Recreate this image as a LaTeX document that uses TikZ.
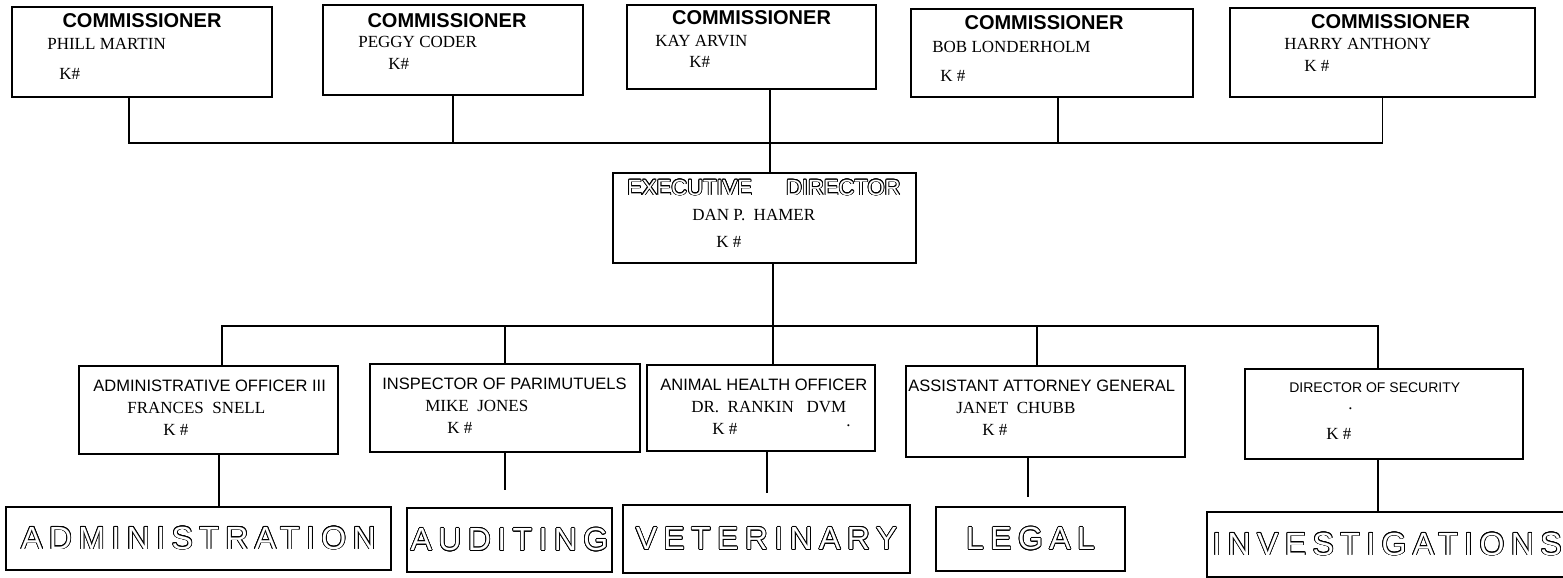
\documentclass[tikz,border=0pt]{standalone}
\usepackage{fontspec}
\usepackage{tikz}
\usepackage{contour}
\setmainfont{Liberation Serif}
\newfontfamily\hsans{Liberation Sans}
\newfontfamily\hspaced[LetterSpace=20]{Liberation Sans}
\newcommand{\ctitle}{\hsans\bfseries\fontsize{20}{24}\selectfont}
\newcommand{\pname}{\rmfamily\fontsize{17}{20}\selectfont}
\newcommand{\otitle}{\hsans\fontsize{16.5}{20}\selectfont}
\newcommand{\hollow}[1]{{\color{white}\contour{black}{#1}}}
\contourlength{0.8pt}

\begin{document}
\begin{tikzpicture}[x=1pt,y=-1pt,
  box/.style={draw,line width=1.7pt,inner sep=0pt},
  link/.style={line width=1.9pt},
  lbl/.style={inner sep=0pt,anchor=base west,font=\pname},
  ctr/.style={inner sep=0pt,anchor=base},
  dept/.style={box,font=\hspaced\fontsize{32}{36}\selectfont}]
  \fill[white] (0,0) rectangle (1563,578);
  \useasboundingbox (0,0) rectangle (1563,578);
  \clip (0,0) rectangle (1563,578);

  % commissioners
  \node[box,minimum width=260pt,minimum height=90pt] (c1) at (142,52) {};
  \node[ctr,font=\ctitle] (c1t) at ([shift={(0,21)}]c1.north) {COMMISSIONER};
  \node[lbl] (c1n) at ([shift={(36,43)}]c1.north west) {PHILL MARTIN};
  \node[lbl] (c1k) at ([shift={(48,73)}]c1.north west) {K\#};

  \node[box,minimum width=260pt,minimum height=90pt] (c2) at (453,50) {};
  \node[ctr,font=\ctitle] (c2t) at ([shift={(-6,23)}]c2.north) {COMMISSIONER};
  \node[lbl] (c2n) at ([shift={(36,43)}]c2.north west) {PEGGY CODER};
  \node[lbl] (c2k) at ([shift={(66,65)}]c2.north west) {K\#};

  \node[box,minimum width=249pt,minimum height=84pt] (c3) at (751.5,47) {};
  \node[ctr,font=\ctitle] (c3t) at ([shift={(0,20)}]c3.north) {COMMISSIONER};
  \node[lbl] (c3n) at ([shift={(29,42)}]c3.north west) {KAY ARVIN};
  \node[lbl] (c3k) at ([shift={(63,63)}]c3.north west) {K\#};

  \node[box,minimum width=282pt,minimum height=88pt] (c4) at (1052,53) {};
  \node[ctr,font=\ctitle] (c4t) at ([shift={(-8,21)}]c4.north) {COMMISSIONER};
  \node[lbl] (c4n) at ([shift={(22,44)}]c4.north west) {BOB LONDERHOLM};
  \node[lbl] (c4k) at ([shift={(30,73)}]c4.north west) {K \#};

  \node[box,minimum width=305pt,minimum height=89pt] (c5) at (1382.5,52.5) {};
  \node[ctr,font=\ctitle] (c5t) at ([shift={(8,21)}]c5.north) {COMMISSIONER};
  \node[lbl] (c5n) at ([shift={(55,42)}]c5.north west) {HARRY ANTHONY};
  \node[lbl] (c5k) at ([shift={(75,64)}]c5.north west) {K \#};

  % executive director
  \node[box,minimum width=303pt,minimum height=90pt] (exec) at (764.5,218) {};
  \node[lbl,font=\hsans\fontsize{22}{24}\selectfont] (exect) at ([shift={(15,23)}]exec.north west) {\hollow{EXECUTIVE\hspace{34pt}DIRECTOR}};
  \node[lbl] (execn) at ([shift={(80,48)}]exec.north west) {DAN P.\ \ HAMER};
  \node[lbl] (execk) at ([shift={(104,75)}]exec.north west) {K \#};

  % officers
  \node[box,minimum width=259pt,minimum height=88pt] (m1) at (208.5,410) {};
  \node[lbl,font=\otitle] (m1t) at ([shift={(15,26)}]m1.north west) {ADMINISTRATIVE OFFICER III};
  \node[lbl] (m1n) at ([shift={(49,48)}]m1.north west) {FRANCES\ \ SNELL};
  \node[lbl] (m1k) at ([shift={(85,70)}]m1.north west) {K \#};

  \node[box,minimum width=270pt,minimum height=88pt] (m2) at (505,408) {};
  \node[lbl,font=\otitle] (m2t) at ([shift={(13,26)}]m2.north west) {INSPECTOR OF PARIMUTUELS};
  \node[lbl] (m2n) at ([shift={(56,48)}]m2.north west) {MIKE\ \ JONES};
  \node[lbl] (m2k) at ([shift={(78,70)}]m2.north west) {K \#};

  \node[box,minimum width=228pt,minimum height=86pt] (m3) at (761,408) {};
  \node[lbl,font=\otitle] (m3t) at ([shift={(14,26)}]m3.north west) {ANIMAL HEALTH OFFICER};
  \node[lbl] (m3n) at ([shift={(45,48)}]m3.north west) {DR.\ \ RANKIN\ \ \ DVM};
  \node[lbl] (m3k) at ([shift={(66,70)}]m3.north west) {K \#};
  \node[lbl] (m3d) at ([shift={(200,62)}]m3.north west) {.};

  \node[box,minimum width=279pt,minimum height=91pt] (m4) at (1045.5,411.5) {};
  \node[lbl,font=\otitle] (m4t) at ([shift={(3,26)}]m4.north west) {ASSISTANT ATTORNEY GENERAL};
  \node[lbl] (m4n) at ([shift={(51,48)}]m4.north west) {JANET\ \ CHUBB};
  \node[lbl] (m4k) at ([shift={(77,70)}]m4.north west) {K \#};

  \node[box,minimum width=278pt,minimum height=90pt] (m5) at (1384,414) {};
  \node[lbl,font=\hsans\fontsize{14}{16}\selectfont] (m5t) at ([shift={(45,24)}]m5.north west) {DIRECTOR OF SECURITY};
  \node[lbl] (m5d) at ([shift={(104,41)}]m5.north west) {.};
  \node[lbl] (m5k) at ([shift={(82,71)}]m5.north west) {K \#};

  % departments
  \node[dept,minimum width=385pt,minimum height=63pt] (admin) at (198.5,538.5) {\hollow{ADMINISTRATION}};
  \node[dept,minimum width=205pt,minimum height=64pt] (audit) at (509.5,540) {\hollow{AUDITING}};
  \node[dept,minimum width=287pt,minimum height=68pt] (vet) at (766.5,539) {\hollow{VETERINARY}};
  \node[dept,minimum width=189pt,minimum height=64pt] (legal) at (1030.5,539) {\hollow{LEGAL}};
  \node[dept,minimum width=360pt,minimum height=65pt] (invest) at (1387,544.5) {\hollow{INVESTIGATIONS}};

  % top bus
  \coordinate (tb) at (770,143);
  \draw[link] ([xshift=-13pt]c1.south) |- (tb) -| (c5.south);
  \draw[link] (c2.south) -- (c2.south |- tb);
  \draw[link] ([xshift=6pt]c4.south) -- ([xshift=6pt]c4.south |- tb);
  \draw[link] ([xshift=18.5pt]c3.south) -- (exec.north -| tb);

  % bottom bus
  \coordinate (bb) at (773,326);
  \draw[link] (exec.south -| bb) -- (bb);
  \draw[link] ([xshift=13.5pt]m1.north) |- (bb) -| ([xshift=-6pt]m5.north);
  \draw[link] (bb) -- (m3.north -| bb);
  \draw[link] (m2.north) -- (m2.north |- bb);
  \draw[link] ([xshift=-8.5pt]m4.north) -- ([xshift=-8.5pt]m4.north |- bb);

  % down to departments
  \coordinate (s2) at (505,490);
  \coordinate (s3) at (767,493);
  \coordinate (s4) at (1028,497);
  \draw[link] ([xshift=10.5pt]m1.south) -- ([xshift=10.5pt]m1.south |- admin.north);
  \draw[link] (m2.south) -- (s2);
  \draw[link] (s3 |- m3.south) -- (s3);
  \draw[link] (s4 |- m4.south) -- (s4);
  \draw[link] ([xshift=-6pt]m5.south) -- ([xshift=-6pt]m5.south |- invest.north);
\end{tikzpicture}
\end{document}
